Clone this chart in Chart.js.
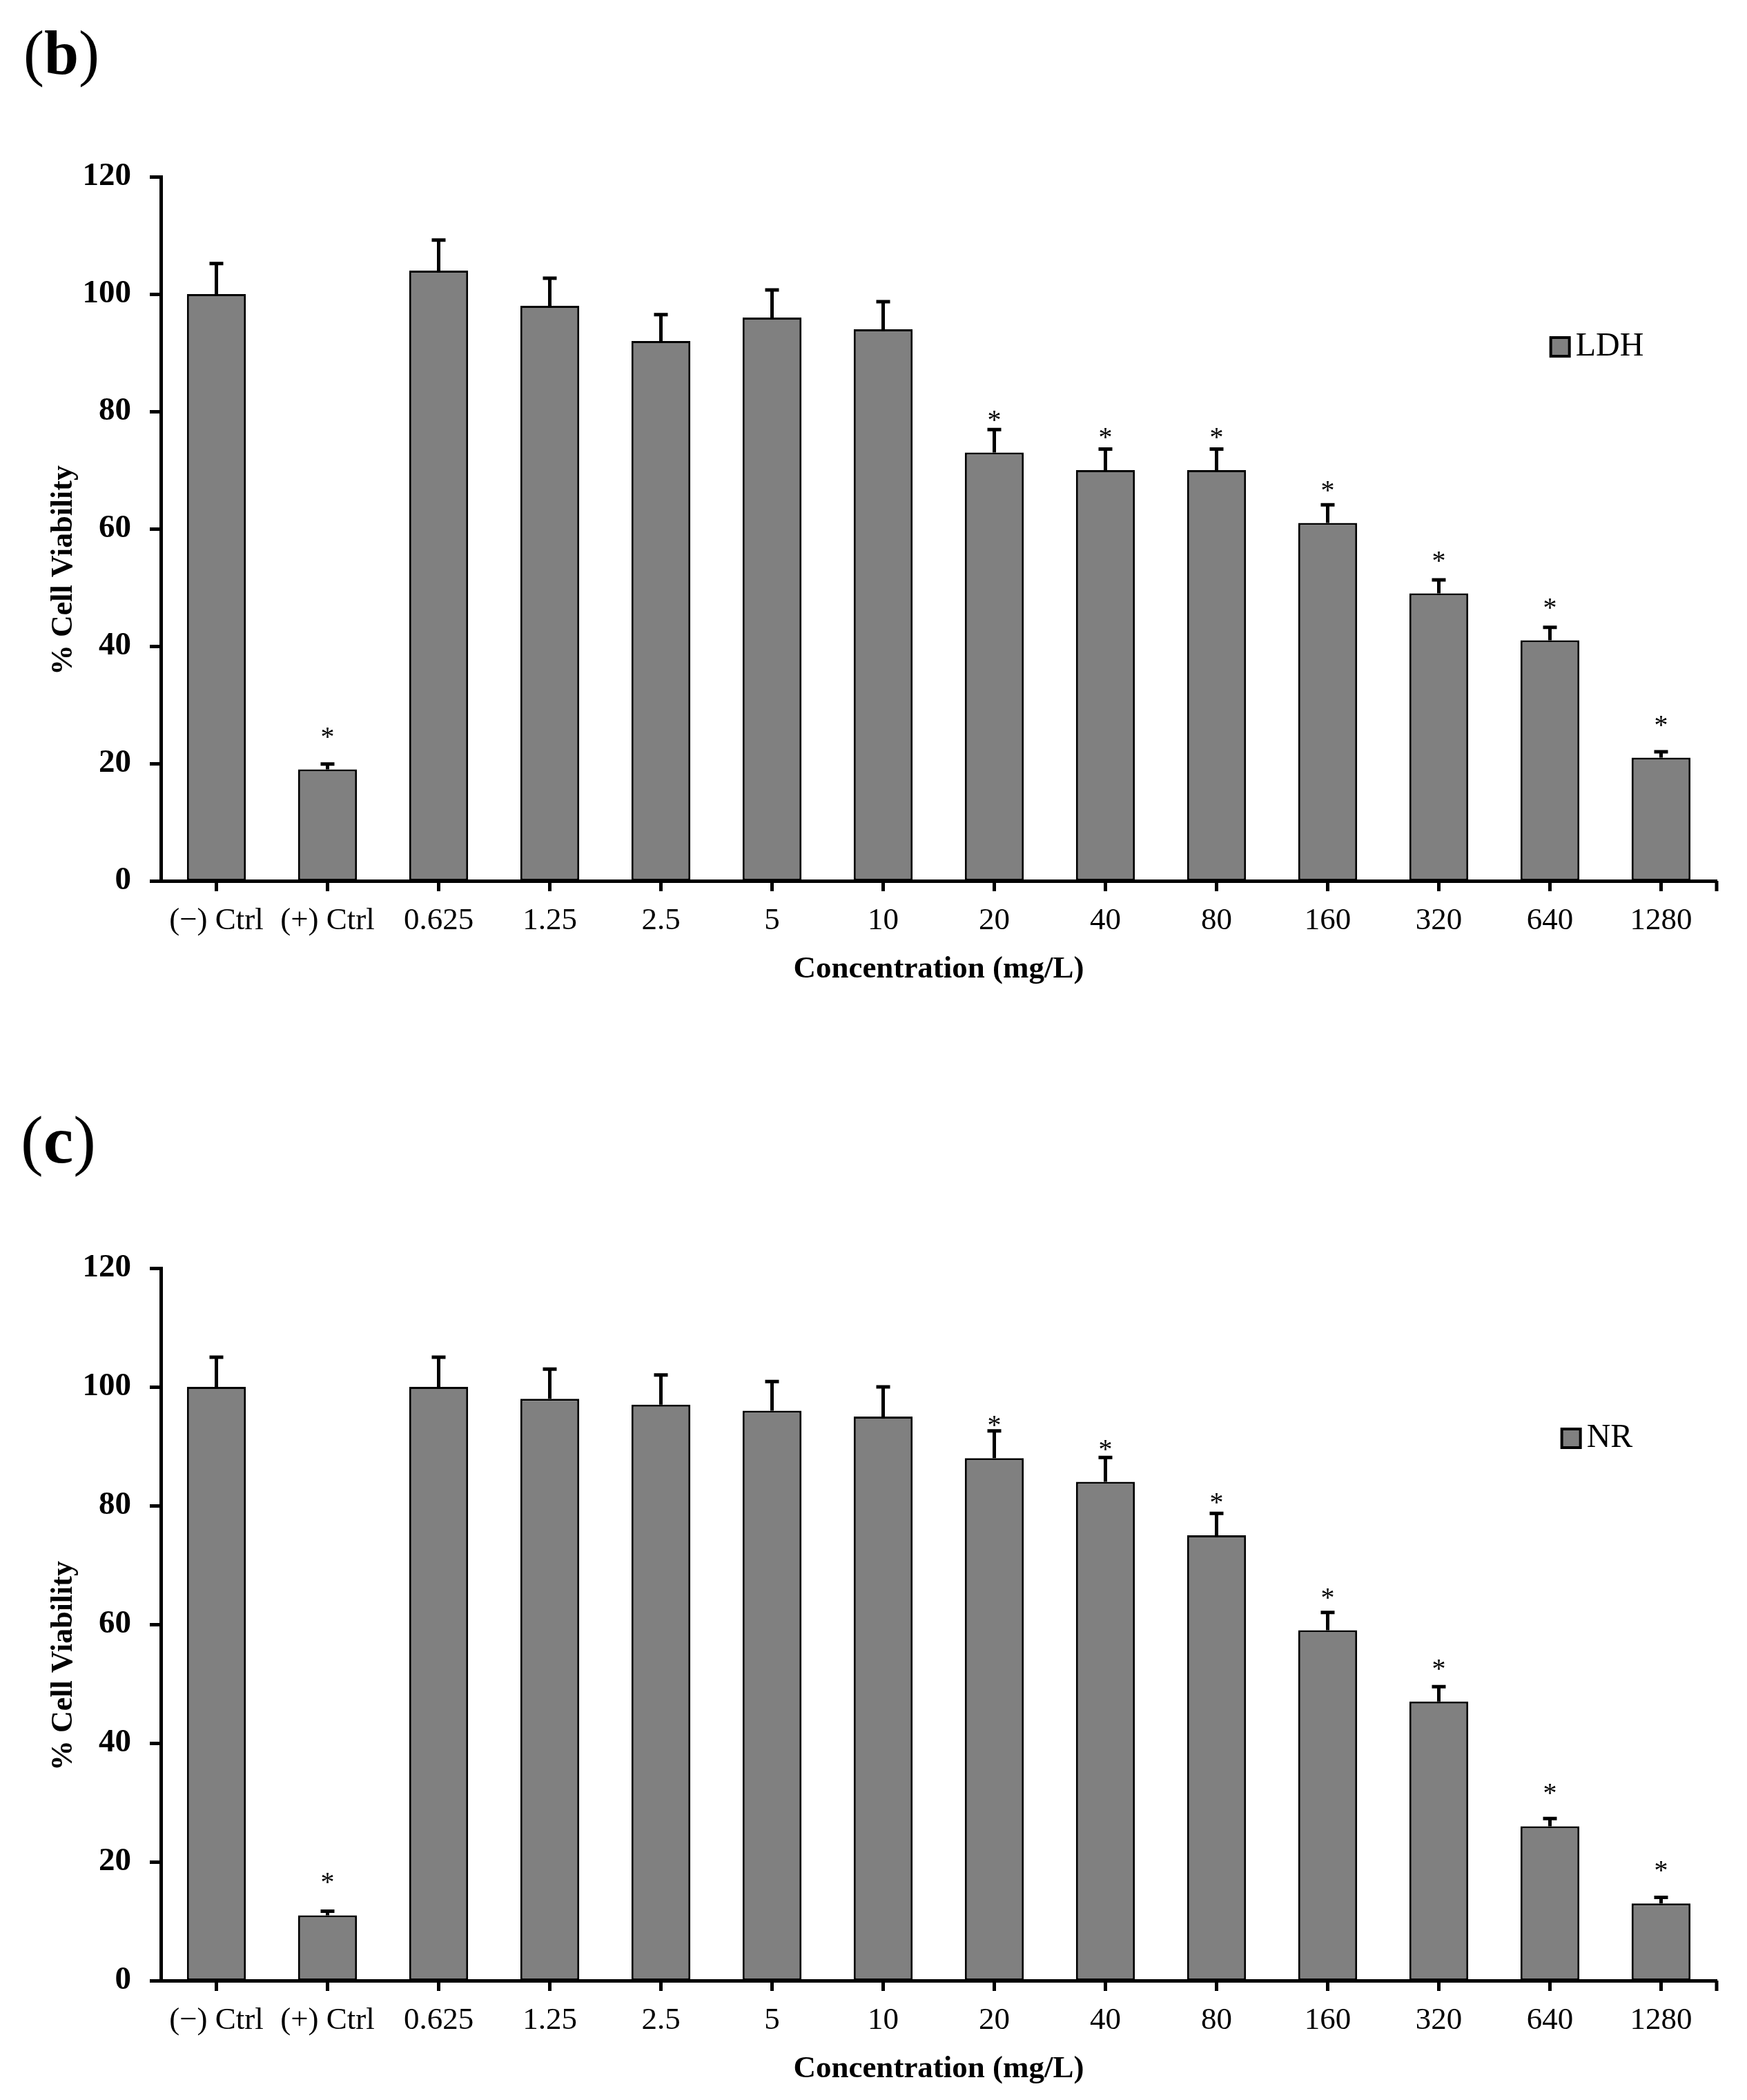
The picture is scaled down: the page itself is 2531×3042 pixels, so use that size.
<!DOCTYPE html>
<html>
<head>
<meta charset="utf-8">
<script src="https://cdn.jsdelivr.net/npm/chart.js@4.4.1/dist/chart.umd.min.js"></script>
<style>
  html, body { margin: 0; padding: 0; background: #fff; }
  body { width: 2531px; height: 3042px; position: relative; overflow: hidden; }
  .panel { position: absolute; left: 34px; font-family: 'Liberation Serif', serif; font-weight: normal; line-height: 1; color: #000; }
  .panel b { font-weight: bold; }
  canvas { position: absolute; left: 0; }
</style>
</head>
<body>
<div class="panel" style="top: 32px; font-size: 90px;">(<b>b</b>)</div>
<div class="panel" style="top: 1602px; font-size: 98px; left: 30px;">(<b>c</b>)</div>
<canvas id="ldhChart" width="2531" height="1500" style="top: 0; width: 2531px; height: 1500px;"></canvas>
<canvas id="nrChart" width="2531" height="1522" style="top: 1520px; width: 2531px; height: 1522px;"></canvas>
<script>
// 농도 (x축 레이블)
const categories = ['(\u2212) Ctrl', '(+) Ctrl', '0.625', '1.25', '2.5', '5', '10', '20', '40', '80', '160', '320', '640', '1280'];

// LDH 세포 생존율과 오차
const ldhValues = [100, 19, 104, 98, 92, 96, 94, 73, 70, 70, 61, 49, 41, 21];
const ldhErrors = [5.2, 0.9, 5.2, 4.7, 4.5, 4.7, 4.7, 3.9, 3.6, 3.6, 3.1, 2.3, 2.2, 1.0];
const ldhMarks = ['', '*', '', '', '', '', '', '*', '*', '*', '*', '*', '*', '*'];

// NR 세포 생존율과 오차
const nrValues = [100, 11, 100, 98, 97, 96, 95, 88, 84, 75, 59, 47, 26, 13];
const nrErrors = [5.0, 0.7, 5.0, 5.0, 5.0, 4.9, 5.0, 4.6, 4.1, 3.7, 3.0, 2.5, 1.3, 1.0];
const nrMarks = ['', '*', '', '', '', '', '', '*', '*', '*', '*', '*', '*', '*'];

// y축 눈금
const yMin = 0;
const yMax = 120;
const yStep = 20;

const FONT = "'Liberation Serif', 'Times New Roman', serif";

// 오차 막대, 별표, 범례, y축 제목 그리기
const extrasPlugin = {
    id: 'extras',
    afterDatasetsDraw(chart) {
        const ctx = chart.ctx;
        const ds = chart.data.datasets[0];
        const meta = chart.getDatasetMeta(0);
        const yScale = chart.scales.y;
        const area = chart.chartArea;
        ctx.save();
        ctx.strokeStyle = '#000';
        ctx.fillStyle = '#000';
        ctx.lineWidth = 5;
        meta.data.forEach((bar, i) => {
            const top = yScale.getPixelForValue(ds.data[i]);
            const end = yScale.getPixelForValue(ds.data[i] + ds.errors[i]);
            ctx.beginPath();
            ctx.moveTo(bar.x, top);
            ctx.lineTo(bar.x, end);
            ctx.moveTo(bar.x - 10, end);
            ctx.lineTo(bar.x + 10, end);
            ctx.stroke();
            if (ds.marks[i]) {
                ctx.font = '40px ' + FONT;
                ctx.textAlign = 'center';
                ctx.textBaseline = 'alphabetic';
                ctx.fillText(ds.marks[i], bar.x, top - 55 + 20);
            }
        });

        // x축 오른쪽 끝 눈금
        ctx.beginPath();
        ctx.moveTo(area.right, area.bottom);
        ctx.lineTo(area.right, area.bottom + 15);
        ctx.stroke();

        // 범례
        ctx.font = '48px ' + FONT;
        const tw = ctx.measureText(ds.label).width;
        const box = 27, gap = 9;
        const startX = 2314 - (box + gap + tw) / 2;
        const boxTop = area.top + 233;
        ctx.fillStyle = '#808080';
        ctx.fillRect(startX, boxTop, box, box);
        ctx.lineWidth = 4;
        ctx.strokeRect(startX, boxTop, box, box);
        ctx.fillStyle = '#000';
        ctx.textAlign = 'left';
        ctx.textBaseline = 'middle';
        ctx.fillText(ds.label, startX + box + gap, boxTop + box / 2);

        // y축 제목
        ctx.translate(93, (area.top + area.bottom) / 2 + 60);
        ctx.rotate(-Math.PI / 2);
        ctx.font = 'bold 44px ' + FONT;
        ctx.textAlign = 'center';
        ctx.textBaseline = 'middle';
        ctx.fillText('% Cell Viability', 0, 0);
        ctx.restore();
    }
};

function makeChart(canvasId, label, values, errors, marks, areaTop, padBottom) {
    const ctx = document.getElementById(canvasId).getContext('2d');
    return new Chart(ctx, {
        type: 'bar',
        data: {
            labels: categories,
            datasets: [{
                label: label,
                data: values,
                errors: errors,
                marks: marks,
                backgroundColor: '#808080',
                borderColor: '#000',
                borderWidth: 3,
                borderSkipped: false,
                barPercentage: 0.53,
                categoryPercentage: 1.0
            }]
        },
        options: {
            responsive: false,
            animation: false,
            devicePixelRatio: 1,
            layout: { padding: { top: areaTop, left: 0, right: 44, bottom: padBottom } },
            plugins: {
                legend: { display: false },
                tooltip: { enabled: false }
            },
            scales: {
                x: {
                    grid: { display: true, offset: false, drawOnChartArea: false, drawTicks: true, tickLength: 15, tickWidth: 5, tickColor: '#000' },
                    border: { display: true, color: '#000', width: 5 },
                    ticks: { color: '#000', font: { family: FONT, size: 45 }, padding: 16, autoSkip: false, maxRotation: 0, minRotation: 0 },
                    title: { display: true, text: 'Concentration (mg/L)', color: '#000', font: { family: FONT, size: 45, weight: 'bold' }, padding: 0 },
                    afterFit: s => { s.height = 155; s.paddingLeft = 0; s.paddingRight = 0; }
                },
                y: {
                    min: yMin,
                    max: yMax,
                    ticks: { stepSize: yStep, color: '#000', font: { family: FONT, size: 47, weight: 'bold' }, padding: 27 },
                    grid: { drawOnChartArea: false, drawTicks: true, tickLength: 16, tickWidth: 5, tickColor: '#000' },
                    border: { display: true, color: '#000', width: 5 },
                    afterFit: s => { s.width = 233; s.paddingTop = 0; s.paddingBottom = 0; }
                }
            }
        },
        plugins: [extrasPlugin]
    });
}

makeChart('ldhChart', 'LDH', ldhValues, ldhErrors, ldhMarks, 256, 69);
makeChart('nrChart', 'NR', nrValues, nrErrors, nrMarks, 317, 18);
</script>
</body>
</html>
